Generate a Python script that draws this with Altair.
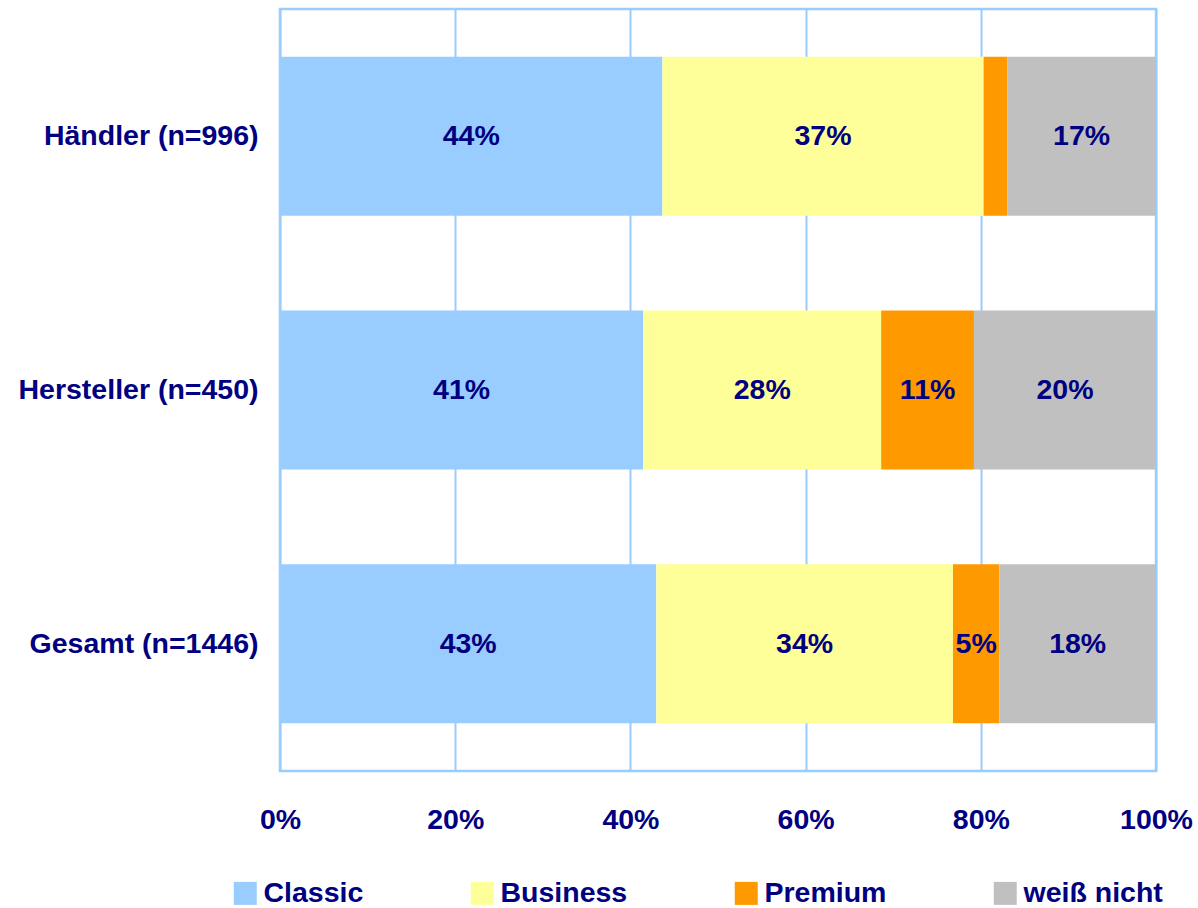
import altair as alt
import pandas as pd

categories = ["Händler (n=996)", "Hersteller (n=450)", "Gesamt (n=1446)"]
series = ["Classic", "Business", "Premium", "weiß nicht"]
colors = ["#99CCFF", "#FFFF99", "#FF9900", "#C0C0C0"]

classic = [43.7, 41.5, 43.0]
business = [36.7, 27.2, 33.9]
premium = [2.7, 10.6, 5.3]
weiss_nicht = [17.0, 20.8, 17.9]

label_classic = ["44%", "41%", "43%"]
label_business = ["37%", "28%", "34%"]
label_premium = ["", "11%", "5%"]
label_weiss = ["17%", "20%", "18%"]

tick_values = [0, 0.2, 0.4, 0.6, 0.8, 1.0]

values_by_series = [classic, business, premium, weiss_nicht]
labels_by_series = [label_classic, label_business, label_premium, label_weiss]

rows = []
for ci, cat in enumerate(categories):
    total = sum(v[ci] for v in values_by_series)
    start = 0.0
    for si, s in enumerate(series):
        v = values_by_series[si][ci] / total
        rows.append({
            "Kategorie": cat,
            "Serie": s,
            "order": si,
            "start": start,
            "end": start + v,
            "mid": start + v / 2,
            "label": labels_by_series[si][ci],
        })
        start += v
df = pd.DataFrame(rows)

FONT = "Liberation Sans"
NAVY = "#000080"
FS = 28.5

y_enc = alt.Y(
    "Kategorie:N",
    sort=categories,
    scale=alt.Scale(paddingInner=0.373, paddingOuter=0.188),
    axis=alt.Axis(
        title=None, ticks=False, domain=False, grid=False,
        labelFont=FONT, labelFontSize=FS, labelFontWeight="bold",
        labelColor=NAVY, labelPadding=22, labelLimit=400,
    ),
)

bars = alt.Chart(df).mark_bar(stroke=None).encode(
    x=alt.X(
        "start:Q",
        scale=alt.Scale(domain=[0, 1], nice=False, zero=True),
        axis=alt.Axis(
            title=None, values=tick_values, format=".0%",
            ticks=False, domain=False, grid=True,
            gridColor="#99CCFF", gridWidth=2, gridOpacity=1,
            labelFont=FONT, labelFontSize=FS, labelFontWeight="bold",
            labelColor=NAVY, labelPadding=34, labelFlush=False,
            labelOverlap=False,
        ),
    ),
    x2="end:Q",
    y=y_enc,
    color=alt.Color(
        "Serie:N",
        scale=alt.Scale(domain=series, range=colors),
        sort=series,
        legend=alt.Legend(
            title=None, orient="none", legendX=-49, legendY=870,
            direction="horizontal", columns=4, columnPadding=104,
            symbolType="square", symbolSize=529, symbolStrokeWidth=0,
            symbolOpacity=1, labelFont=FONT, labelFontSize=FS,
            labelFontWeight="bold", labelColor=NAVY, labelOffset=4,
            labelLimit=400, padding=0,
        ),
    ),
    order=alt.Order("order:Q"),
)

texts = alt.Chart(df).mark_text(
    font=FONT, fontSize=FS, fontWeight="bold", color=NAVY,
    align="center", baseline="middle",
).encode(
    x=alt.X("mid:Q", scale=alt.Scale(domain=[0, 1], nice=False)),
    y=alt.Y("Kategorie:N", sort=categories),
    text="label:N",
)

chart = alt.layer(bars, texts).properties(
    width=876,
    height=762,
    autosize=alt.AutoSizeParams(type="none"),
    padding={"left": 280, "top": 9, "right": 42, "bottom": 137},
    background="white",
).configure_view(
    stroke="#99CCFF", strokeWidth=2.5
)

chart.save("out.html", embed_options={"renderer": "svg", "actions": False})
